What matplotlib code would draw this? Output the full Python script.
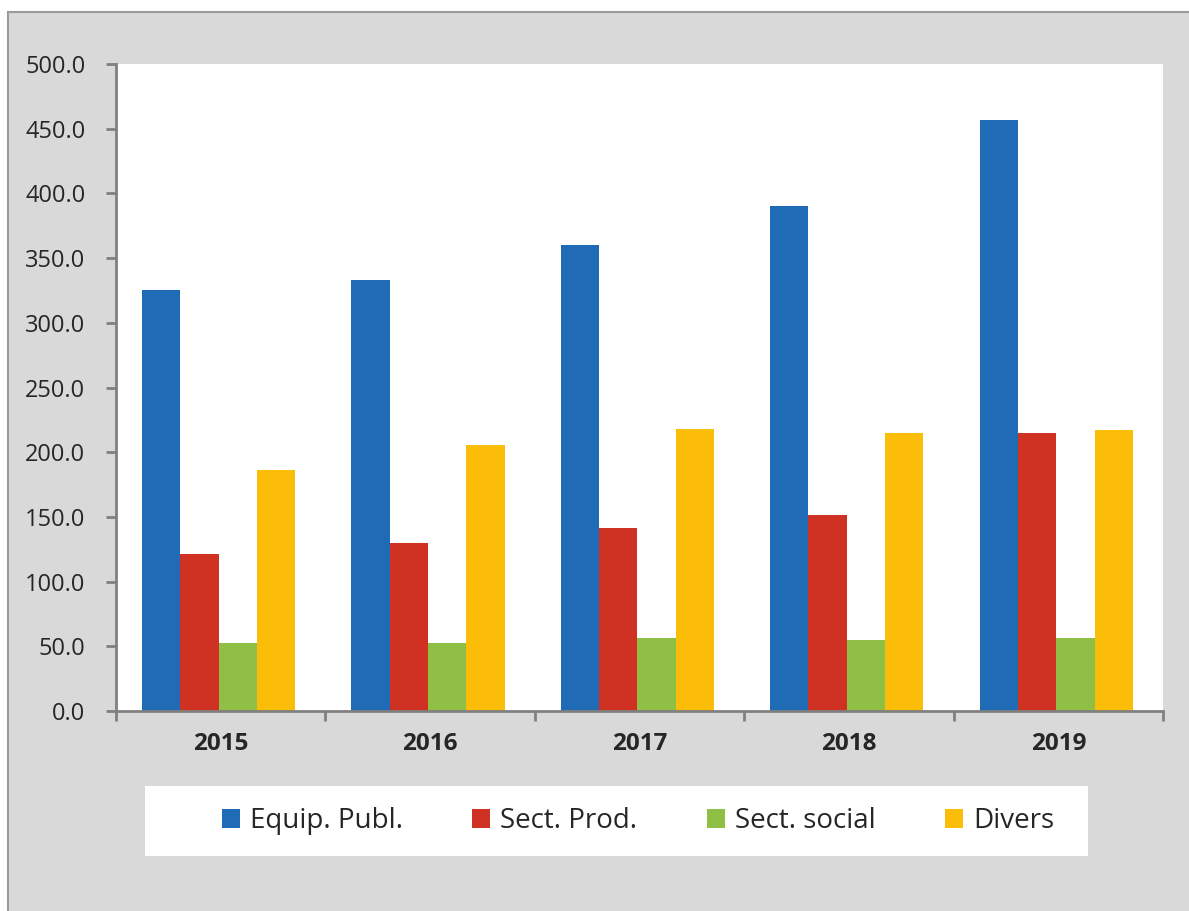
import numpy as np
import matplotlib.pyplot as plt
from matplotlib.patches import Rectangle

plt.rcParams['font.family'] = ['Open Sans', 'DejaVu Sans']

years = ['2015', '2016', '2017', '2018', '2019']
series_names = ['Equip. Publ.', 'Sect. Prod.', 'Sect. social', 'Divers']
equip_publ = [325.0, 333.0, 360.0, 390.0, 456.5]
sect_prod = [121.6, 129.6, 141.3, 151.6, 214.6]
sect_social = [52.4, 52.4, 56.3, 55.0, 56.3]
divers = [186.2, 205.3, 218.2, 214.6, 217.0]
colors = ['#1f6bb5', '#cf3122', '#8fbf45', '#fbbd07']

W, H = 1189, 911
fig = plt.figure(figsize=(W / 100, H / 100), dpi=100)
fig.patch.set_facecolor('white')

# grey chart area with thin border
fig.patches.append(Rectangle((8 / W, -0.01), 1.0, 1 - 12 / H + 0.01,
                             transform=fig.transFigure, facecolor='#d9d9d9',
                             edgecolor='#9a9a9a', linewidth=1.5, zorder=-10))
# white legend box
fig.patches.append(Rectangle((145 / W, 1 - 856 / H), (1088 - 145) / W, 70 / H,
                             transform=fig.transFigure, facecolor='white',
                             edgecolor='none', zorder=-9))

ax = fig.add_axes([116 / W, 1 - 711 / H, (1163 - 116) / W, (711 - 64) / H])
ax.set_facecolor('white')

x = np.arange(len(years))
bw = 0.183
for i, (vals, c) in enumerate(zip([equip_publ, sect_prod, sect_social, divers], colors)):
    ax.bar(x + (i - 1.5) * bw - 0.01, vals, width=bw, color=c, label=series_names[i], zorder=2)

ax.set_xlim(-0.5, len(years) - 0.5)
ax.set_ylim(0, 500)
yt = np.arange(0, 501, 50)
ax.set_yticks(yt)
ax.set_yticklabels([f'{v:.1f}' for v in yt], fontsize=17, color='#262626')

ax.set_xticks(x)
ax.set_xticklabels(years, fontsize=17.5, fontweight='bold', color='#262626')
ax.tick_params(axis='x', length=0, pad=15)
ax.set_xticks(np.arange(-0.5, len(years)), minor=True)
ax.tick_params(axis='x', which='minor', length=7, width=2, color='#808080', direction='out')
ax.tick_params(axis='y', length=7, width=2, color='#808080', direction='out', pad=15)

for s in ['top', 'right']:
    ax.spines[s].set_visible(False)
for s in ['left', 'bottom']:
    ax.spines[s].set_color('#808080')
    ax.spines[s].set_linewidth(2)

handles, labels = ax.get_legend_handles_labels()
leg = fig.legend(handles, labels, loc='center', ncol=4,
                 bbox_to_anchor=(638 / W, 1 - 821 / H),
                 fontsize=20, frameon=False, handlelength=0.65, handleheight=0.65,
                 handletextpad=0.36, columnspacing=2.5, borderaxespad=0)
for t in leg.get_texts():
    t.set_color('#262626')

fig.savefig('out.png', dpi=100)
